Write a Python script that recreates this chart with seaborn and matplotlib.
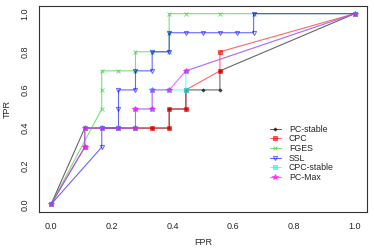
import numpy as np
import pandas as pd
import matplotlib
matplotlib.use("Agg")
import matplotlib.pyplot as plt
import seaborn as sns

# ROC points per algorithm (FPR, TPR)
pc_stable_fpr = [0.0, 0.111, 0.167, 0.222, 0.278, 0.333, 0.389, 0.389, 0.444, 0.444, 0.5, 0.556, 0.556, 1.0]
pc_stable_tpr = [0.0, 0.4, 0.4, 0.4, 0.4, 0.4, 0.4, 0.5, 0.5, 0.6, 0.6, 0.6, 0.7, 1.0]

cpc_fpr = [0.0, 0.111, 0.111, 0.167, 0.222, 0.278, 0.333, 0.389, 0.389, 0.444, 0.444, 0.556, 0.556, 1.0]
cpc_tpr = [0.0, 0.3, 0.4, 0.4, 0.4, 0.4, 0.4, 0.4, 0.5, 0.5, 0.6, 0.7, 0.8, 1.0]

fges_fpr = [0.0, 0.167, 0.167, 0.167, 0.222, 0.278, 0.278, 0.333, 0.389, 0.389, 0.389, 0.444, 0.556, 0.667, 1.0]
fges_tpr = [0.0, 0.5, 0.6, 0.7, 0.7, 0.7, 0.8, 0.8, 0.8, 0.9, 1.0, 1.0, 1.0, 1.0, 1.0]

ssl_fpr = [0.0, 0.167, 0.167, 0.222, 0.222, 0.222, 0.278, 0.278, 0.333, 0.333, 0.389, 0.389,
           0.444, 0.5, 0.556, 0.611, 0.667, 0.667, 1.0]
ssl_tpr = [0.0, 0.3, 0.4, 0.4, 0.5, 0.6, 0.6, 0.7, 0.7, 0.8, 0.8, 0.9,
           0.9, 0.9, 0.9, 0.9, 0.9, 1.0, 1.0]

cpc_stable_fpr = [0.0, 0.111, 0.111, 0.167, 0.222, 0.278, 0.278, 0.333, 0.333, 0.389, 0.444, 0.444, 1.0]
cpc_stable_tpr = [0.0, 0.3, 0.4, 0.4, 0.4, 0.4, 0.5, 0.5, 0.6, 0.6, 0.6, 0.7, 1.0]

pc_max_fpr = [0.0, 0.111, 0.111, 0.167, 0.222, 0.278, 0.278, 0.333, 0.333, 0.389, 0.444, 1.0]
pc_max_tpr = [0.0, 0.3, 0.4, 0.4, 0.4, 0.4, 0.5, 0.5, 0.6, 0.6, 0.7, 1.0]

algorithms = ["PC-stable", "CPC", "FGES", "SSL", "CPC-stable", "PC-Max"]
series = {
    "PC-stable": (pc_stable_fpr, pc_stable_tpr),
    "CPC": (cpc_fpr, cpc_tpr),
    "FGES": (fges_fpr, fges_tpr),
    "SSL": (ssl_fpr, ssl_tpr),
    "CPC-stable": (cpc_stable_fpr, cpc_stable_tpr),
    "PC-Max": (pc_max_fpr, pc_max_tpr),
}

colors = {"PC-stable": "black", "CPC": "red", "FGES": "#22cc22",
          "SSL": "blue", "CPC-stable": "cyan", "PC-Max": "magenta"}
markers = {"PC-stable": "D", "CPC": "s", "FGES": "x",
           "SSL": "v", "CPC-stable": "s", "PC-Max": "*"}
msizes = {"PC-stable": 1.6, "CPC": 2.6, "FGES": 2.4,
          "SSL": 3.0, "CPC-stable": 2.6, "PC-Max": 3.8}

sns.set_style("white")
plt.rcParams['font.family'] = ['Liberation Sans', 'DejaVu Sans']

fig = plt.figure(figsize=(3.74, 2.52), dpi=100)
ax = fig.add_axes([0.104, 0.159, 0.877, 0.817])

for name in algorithms:
    fpr, tpr = series[name]
    df = pd.DataFrame({"FPR": fpr, "TPR": tpr})
    c = colors[name]
    filled = name not in ("SSL", "FGES")
    sns.lineplot(data=df, x="FPR", y="TPR", sort=False, estimator=None, ax=ax,
                 color=c, linewidth=0.8, alpha=0.6, label=name,
                 marker=markers[name], markersize=msizes[name],
                 markeredgecolor=c, markerfacecolor=c if filled else "none",
                 markeredgewidth=0.7)

ax.set_xlim(-0.04, 1.04)
ax.set_ylim(-0.04, 1.04)
ax.set_xticks([0.0, 0.2, 0.4, 0.6, 0.8, 1.0])
ax.set_yticks([0.0, 0.2, 0.4, 0.6, 0.8, 1.0])
ax.set_xticklabels(["0.0", "0.2", "0.4", "0.6", "0.8", "1.0"], fontsize=6.5)
ax.set_yticklabels(["0.0", "0.2", "0.4", "0.6", "0.8", "1.0"], fontsize=6.5,
                   rotation=90, va="center")
ax.tick_params(axis="both", direction="out", length=3, width=0.7, color="#333333")
ax.tick_params(axis="x", pad=4)
ax.tick_params(axis="y", pad=4)
for sp in ax.spines.values():
    sp.set_color("#333333")
    sp.set_linewidth(0.8)
ax.set_xlabel("FPR", fontsize=6.5, labelpad=5)
ax.set_ylabel("TPR", fontsize=6.5, labelpad=6)
ax.grid(False)

ax.legend(loc="upper left", bbox_to_anchor=(0.69, 0.445), frameon=False,
          fontsize=6.3, handlelength=1.3, handletextpad=0.9,
          labelspacing=0.08, borderpad=0)

fig.savefig("out.png", dpi=100)
